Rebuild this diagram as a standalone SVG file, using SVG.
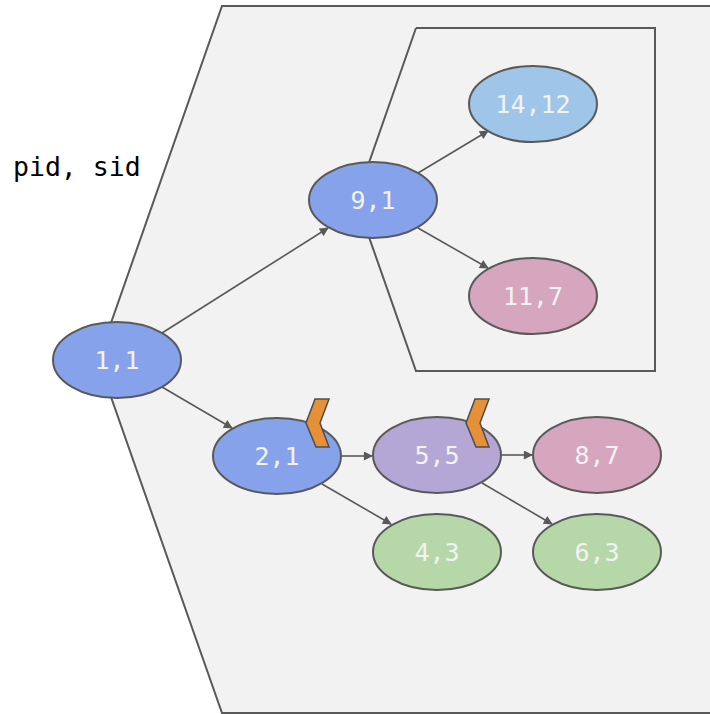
<svg xmlns="http://www.w3.org/2000/svg" width="710" height="714" viewBox="0 0 710 714">
  <style>
    .region { fill: #f2f2f2; stroke: #595959; stroke-width: 2; }
    .inner { fill: none; stroke: #595959; stroke-width: 2; }
    .node ellipse { stroke: #595959; stroke-width: 2; }
    .node text { font-family: "DejaVu Sans Mono", "Liberation Mono", monospace; font-size: 25px; fill: #f3f3f3; text-anchor: middle; dominant-baseline: central; }
    .blue { fill: #86a2ea; }
    .sky { fill: #9fc5e8; }
    .pink { fill: #d5a6bd; }
    .violet { fill: #b4a7d6; }
    .green { fill: #b6d7a8; }
    .edge { stroke: #595959; stroke-width: 1.6; fill: none; marker-end: url(#arrow); }
    .flag { fill: #e69138; stroke: #4d4d4d; stroke-width: 1.5; stroke-linejoin: miter; }
    .caption { font-family: "DejaVu Sans Mono", "Liberation Mono", monospace; font-size: 26.5px; fill: #000; }
  </style>
  <defs>
    <marker id="arrow" viewBox="0 0 10 10" refX="9" refY="5" markerWidth="10" markerHeight="9" orient="auto" markerUnits="userSpaceOnUse">
      <path d="M0,0 L10,5 L0,10 z" fill="#595959"/>
    </marker>
  </defs>

  <rect width="710" height="714" fill="#ffffff"/>

  <!-- outer and inner scope regions -->
  <polygon class="region" points="222,6 712,6 712,713 222,713 98,360"/>
  <polyline class="inner" points="416,28 655,28 655,371 416,371 356,200 416,28"/>

  <text class="caption" x="13" y="176">pid, sid</text>

  <g id="connectors">
    <line class="edge" x1="162" y1="333" x2="328" y2="228"/>
    <line class="edge" x1="162" y1="387" x2="232" y2="428"/>
    <line class="edge" x1="418" y1="173" x2="488" y2="131"/>
    <line class="edge" x1="418" y1="228" x2="488" y2="268"/>
    <line class="edge" x1="341" y1="456" x2="372" y2="456"/>
    <line class="edge" x1="322" y1="484" x2="391" y2="524"/>
    <line class="edge" x1="500" y1="455" x2="532" y2="455"/>
    <line class="edge" x1="482" y1="483" x2="552" y2="524"/>
  </g>

  <g id="n1_1" class="node"><ellipse class="blue" cx="117" cy="360" rx="64" ry="38"/><text x="117" y="360">1,1</text></g>
  <g id="n9_1" class="node"><ellipse class="blue" cx="373" cy="200" rx="64" ry="38"/><text x="373" y="200">9,1</text></g>
  <g id="n14_12" class="node"><ellipse class="sky" cx="533" cy="104" rx="64" ry="38"/><text x="533" y="104">14,12</text></g>
  <g id="n11_7" class="node"><ellipse class="pink" cx="533" cy="296" rx="64" ry="38"/><text x="533" y="296">11,7</text></g>
  <g id="n2_1" class="node"><ellipse class="blue" cx="277" cy="456" rx="64" ry="38"/><text x="277" y="456">2,1</text></g>
  <g id="n5_5" class="node"><ellipse class="violet" cx="437" cy="455" rx="64" ry="38"/><text x="437" y="455">5,5</text></g>
  <g id="n8_7" class="node"><ellipse class="pink" cx="597" cy="455" rx="64" ry="38"/><text x="597" y="455">8,7</text></g>
  <g id="n4_3" class="node"><ellipse class="green" cx="437" cy="552" rx="64" ry="38"/><text x="437" y="552">4,3</text></g>
  <g id="n6_3" class="node"><ellipse class="green" cx="597" cy="552" rx="64" ry="38"/><text x="597" y="552">6,3</text></g>

  <g id="flags">
    <polygon class="flag" points="315,399 329,399 320,423 329,447 316,447 306,423"/>
    <polygon class="flag" points="475,399 489,399 480,423 489,447 476,447 466,423"/>
  </g>
</svg>
